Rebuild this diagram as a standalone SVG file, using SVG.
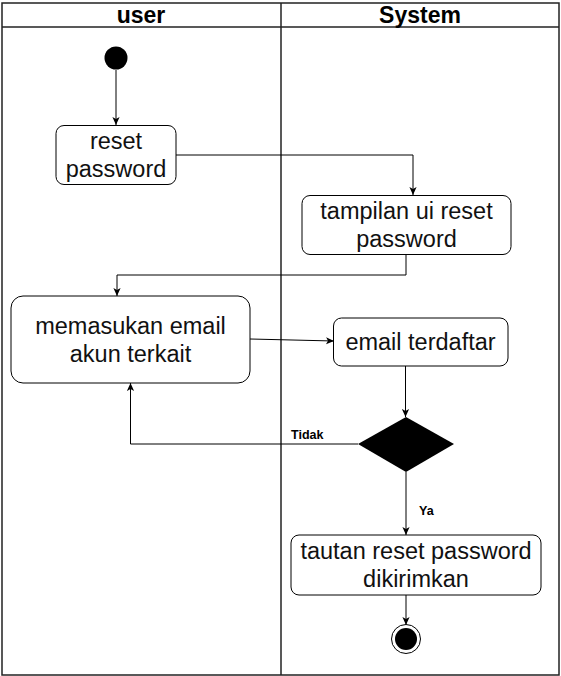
<svg xmlns="http://www.w3.org/2000/svg" width="561" height="676" viewBox="0 0 561 676">
<style>
.lane{fill:none;stroke:#222;stroke-width:1.5}
.node{fill:#fff;stroke:#000;stroke-width:1}
.t{font-family:"Liberation Sans",Arial,sans-serif;font-size:23.5px;fill:#111;text-anchor:middle}
.h{font-family:"Liberation Sans",Arial,sans-serif;font-size:23px;font-weight:bold;fill:#000;text-anchor:middle}
.lbl{font-family:"Liberation Sans",Arial,sans-serif;font-size:12.5px;font-weight:bold;fill:#000}
.e{fill:none;stroke:#000;stroke-width:1;marker-end:url(#arr)}
</style>
<defs>
<marker id="arr" viewBox="0 0 10 10" refX="10" refY="5" markerWidth="8" markerHeight="8" markerUnits="userSpaceOnUse" orient="auto">
<path d="M0,0.5 L10,5 L0,9.5 L2.5,5 z" fill="#000"/>
</marker>
</defs>
<rect width="561" height="676" fill="#fff"/>
<g id="lanes">
<rect class="lane" x="2" y="3" width="557" height="672"/>
<line class="lane" x1="2" y1="27" x2="559" y2="27"/>
<line class="lane" x1="281" y1="3" x2="281" y2="675"/>
<text class="h" x="141" y="23">user</text>
<text class="h" x="420" y="23">System</text>
</g>
<g id="connectors">
<path class="e" d="M116,70 V125"/>
<path class="e" d="M176,155 H413 V195"/>
<path class="e" d="M406,255 V275 H117 V296"/>
<path class="e" d="M250,339 L334,341"/>
<path class="e" d="M405.5,366 V417"/>
<path class="e" d="M358,444 H130.5 V383"/>
<text class="lbl" x="291" y="439">Tidak</text>
<path class="e" d="M406,472 V535"/>
<text class="lbl" x="419" y="515">Ya</text>
<path class="e" d="M406,595 V625"/>
</g>
<g id="start"><circle cx="116" cy="58" r="11.5" fill="#000"/></g>
<g id="reset-password">
<rect class="node" x="56" y="125.5" width="120" height="59" rx="8"/>
<text class="t" x="116" y="149">reset</text>
<text class="t" x="116" y="177">password</text>
</g>
<g id="tampilan">
<rect class="node" x="302" y="195.5" width="209" height="59" rx="8"/>
<text class="t" x="406.5" y="219">tampilan ui reset</text>
<text class="t" x="406.5" y="247">password</text>
</g>
<g id="memasukan">
<rect class="node" x="11" y="296" width="239" height="87" rx="12"/>
<text class="t" x="130.5" y="333.5">memasukan email</text>
<text class="t" x="130.5" y="361.5">akun terkait</text>
</g>
<g id="email-terdaftar">
<rect class="node" x="333.5" y="318" width="174.5" height="48" rx="8"/>
<text class="t" x="420.5" y="350">email terdaftar</text>
</g>
<g id="decision"><polygon points="406,417 454,444 406,472 358,444" fill="#000"/></g>
<g id="tautan">
<rect class="node" x="291" y="535" width="250" height="60" rx="8"/>
<text class="t" x="416" y="559">tautan reset password</text>
<text class="t" x="416" y="587">dikirimkan</text>
</g>
<g id="end">
<circle cx="406" cy="639" r="14.5" fill="#fff" stroke="#000" stroke-width="1"/>
<circle cx="406" cy="639" r="11" fill="#000"/>
</g>
</svg>
